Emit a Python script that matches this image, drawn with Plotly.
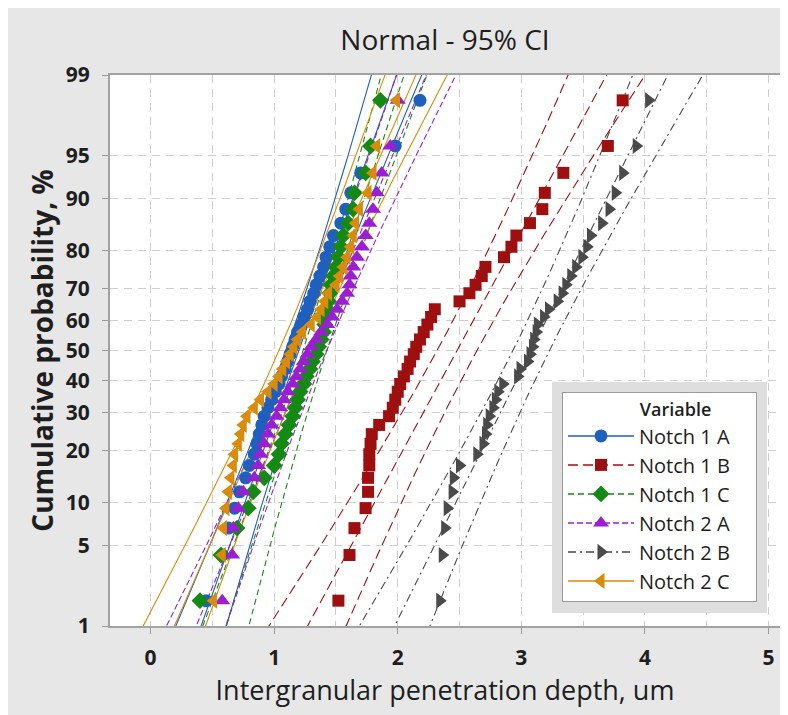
import math
from statistics import NormalDist
import plotly.graph_objects as go

# ---------------- data ----------------
series_names = ["Notch 1 A", "Notch 1 B", "Notch 1 C", "Notch 2 A", "Notch 2 B", "Notch 2 C"]

notch_1a = [0.45, 0.58, 0.63, 0.68, 0.72, 0.77, 0.80, 0.84, 0.86, 0.88,
            0.90, 0.92, 0.95, 0.98, 1.01, 1.04, 1.06, 1.09, 1.11, 1.13,
            1.15, 1.17, 1.19, 1.22, 1.24, 1.27, 1.29, 1.32, 1.34, 1.37,
            1.40, 1.42, 1.45, 1.48, 1.54, 1.58, 1.62, 1.70, 1.98, 2.18]
notch_1b = [1.52, 1.61, 1.65, 1.74, 1.76, 1.76, 1.77, 1.77, 1.78, 1.79,
            1.85, 1.93, 1.96, 1.98, 2.00, 2.02, 2.05, 2.08, 2.10, 2.13,
            2.15, 2.18, 2.21, 2.24, 2.27, 2.30, 2.50, 2.58, 2.63, 2.68,
            2.71, 2.86, 2.92, 2.96, 3.07, 3.17, 3.19, 3.34, 3.70, 3.82]
notch_1c = [0.40, 0.57, 0.70, 0.79, 0.83, 0.92, 1.00, 1.04, 1.06, 1.09,
            1.12, 1.15, 1.17, 1.19, 1.21, 1.24, 1.26, 1.29, 1.31, 1.34,
            1.36, 1.38, 1.40, 1.41, 1.42, 1.43, 1.44, 1.45, 1.46, 1.48,
            1.50, 1.52, 1.54, 1.56, 1.60, 1.64, 1.65, 1.74, 1.78, 1.86]
notch_2a = [0.58, 0.66, 0.67, 0.71, 0.75, 0.84, 0.87, 0.89, 0.92, 0.95,
            0.98, 1.02, 1.05, 1.08, 1.11, 1.15, 1.18, 1.21, 1.24, 1.27,
            1.30, 1.34, 1.38, 1.43, 1.47, 1.51, 1.55, 1.59, 1.61, 1.62,
            1.64, 1.67, 1.71, 1.74, 1.77, 1.80, 1.83, 1.87, 1.94, 2.00]
notch_2b = [2.34, 2.36, 2.38, 2.40, 2.44, 2.45, 2.50, 2.64, 2.69, 2.71,
            2.72, 2.74, 2.77, 2.79, 2.81, 2.85, 2.97, 2.99, 3.05, 3.07,
            3.09, 3.10, 3.12, 3.13, 3.18, 3.22, 3.29, 3.33, 3.36, 3.40,
            3.44, 3.49, 3.53, 3.56, 3.65, 3.71, 3.76, 3.82, 3.93, 4.03]
notch_2c = [0.51, 0.58, 0.59, 0.61, 0.63, 0.65, 0.67, 0.68, 0.71, 0.73,
            0.75, 0.78, 0.84, 0.89, 0.95, 1.00, 1.04, 1.07, 1.10, 1.13,
            1.16, 1.19, 1.23, 1.30, 1.35, 1.38, 1.41, 1.44, 1.50, 1.53,
            1.56, 1.59, 1.62, 1.64, 1.66, 1.69, 1.76, 1.80, 1.83, 1.99]

series_values = [notch_1a, notch_1b, notch_1c, notch_2a, notch_2b, notch_2c]

# fitted normal parameters (location / scale)
fit_mean = [1.20, 2.48, 1.33, 1.30, 3.08, 1.17]
fit_sd = [0.34, 0.52, 0.31, 0.40, 0.475, 0.42]

prob_ticks = [1, 5, 10, 20, 30, 40, 50, 60, 70, 80, 90, 95, 99]
x_ticks = [0, 1, 2, 3, 4, 5]

title_text = "Normal - 95% CI"
x_title = "Intergranular penetration depth, um"
y_title = "Cumulative probability, %"
legend_title = "Variable"

# ---------------- styles ----------------
colors = ["#1f5fbd", "#9e1010", "#148a14", "#9a1fd2", "#4a4a4a", "#d98b0b"]
symbols = ["circle", "square", "diamond", "triangle-up", "triangle-right", "triangle-left"]
msizes = [13, 12, 13, 14, 14, 14]
dashes = ["solid", "10px,5px", "6px,4px", "6px,3px", "8px,4px,2px,4px", "solid"]
FONT = "Open Sans, Noto Sans, DejaVu Sans, sans-serif"
TXT = "#1e1e1e"

# page offset of the figure inside the browser (body margin)
OFF = 8
W, H = 788, 715
# plot-area geometry in screen pixels (as in the reference), converted to figure pixels
PL, PR, PT, PB = 110 - OFF, 780 - OFF, 75 - OFF, 626 - OFF

nd = NormalDist()


def probit(p):
    return nd.inv_cdf(p)


def sx(px):
    """screen x pixel -> paper fraction"""
    return (px - OFF - PL) / (PR - PL)


def sy(py):
    """screen y pixel -> paper fraction"""
    return 1 - (py - OFF - PT) / (PB - PT)


zcrit = nd.inv_cdf(0.975)
fig = go.Figure()

# fitted lines + 95% confidence bands
zgrid = [-2.8 + 0.05 * k for k in range(113)]
for vals, mu, sd, c, d in zip(series_values, fit_mean, fit_sd, colors, dashes):
    n = len(vals)
    center = [mu + z * sd for z in zgrid]
    se = [sd * math.sqrt(1.0 / n + z * z / (2.0 * n)) for z in zgrid]
    lower = [m - zcrit * s for m, s in zip(center, se)]
    upper = [m + zcrit * s for m, s in zip(center, se)]
    for xs in (lower, center, upper):
        fig.add_trace(go.Scatter(x=xs, y=zgrid, mode="lines",
                                 line=dict(color=c, width=1.1, dash=d),
                                 showlegend=False, hoverinfo="skip"))

# data points at median-rank plotting positions
for name, vals, c, s, ms in zip(series_names, series_values, colors, symbols, msizes):
    n = len(vals)
    sv = sorted(vals)
    zs = [probit((k + 1 - 0.3) / (n + 0.4)) for k in range(n)]
    fig.add_trace(go.Scatter(x=sv, y=zs, mode="markers", name=name,
                             marker=dict(color=c, symbol=s, size=ms, line=dict(width=0)),
                             showlegend=False))

# legend entries (line + marker)
for name, c, s, d, ms in zip(series_names, colors, symbols, dashes, msizes):
    fig.add_trace(go.Scatter(x=[None], y=[None], mode="lines+markers",
                             name=name + "\u00a0\u00a0\u00a0\u00a0",
                             legendgroup=name,
                             line=dict(color=c, width=1.5, dash=d),
                             marker=dict(color=c, symbol=s, size=ms, line=dict(width=0))))

ytickvals = [probit(p / 100.0) for p in prob_ticks]

fig.update_layout(
    width=W, height=H,
    margin=dict(l=PL, r=W - PR, t=PT, b=H - PB),
    paper_bgcolor="#e7e7e7",
    plot_bgcolor="white",
    font=dict(family=FONT, color=TXT),
    title=dict(text=title_text, x=0.5, xref="paper", y=1 - (40 - OFF) / H, yref="container",
               yanchor="middle", xanchor="center",
               font=dict(size=28, color=TXT, family=FONT)),
    showlegend=True,
    legend=dict(
        title=dict(text="\u00a0" * 16 + legend_title, font=dict(size=18, color=TXT, weight=600)),
        x=sx(562), y=sy(392), xanchor="left", yanchor="top",
        bgcolor="white", bordercolor="#9a9a9a", borderwidth=1,
        font=dict(size=20, color=TXT, family=FONT),
        traceorder="grouped", tracegroupgap=0, itemwidth=66,
    ),
    shapes=[dict(type="rect", xref="paper", yref="paper", layer="above",
                 x0=sx(552), x1=sx(767), y0=sy(613), y1=sy(382),
                 fillcolor="#dedede", line=dict(width=0))],
)

fig.update_xaxes(
    range=[-0.328, 5.093], tickvals=x_ticks, ticktext=[str(v) for v in x_ticks],
    showgrid=True, gridcolor="#cfcfcf", griddash="8px,6px", gridwidth=1,
    minor=dict(dtick=0.5, tick0=0, showgrid=True, gridcolor="#cfcfcf", griddash="8px,6px", ticks=""),
    zeroline=False, showline=True, mirror=True, linecolor="#a3a3a3", linewidth=2,
    ticks="outside", ticklen=6, tickcolor="#9a9a9a", ticklabelstandoff=6,
    tickfont=dict(size=21, color=TXT, weight=700),
    title=dict(text=x_title, font=dict(size=27, color=TXT), standoff=4),
    automargin=False,
)
fig.update_yaxes(
    range=[probit(0.01), probit(0.99)], tickvals=ytickvals, ticktext=[str(p) for p in prob_ticks],
    showgrid=True, gridcolor="#cfcfcf", griddash="8px,6px", gridwidth=1,
    zeroline=False, showline=True, mirror=True, linecolor="#a3a3a3", linewidth=2,
    ticks="outside", ticklen=6, tickcolor="#9a9a9a", ticklabelstandoff=8,
    tickfont=dict(size=21, color=TXT, weight=700),
    title=dict(text=y_title, font=dict(size=28, color=TXT, weight=700), standoff=4),
    automargin=False,
)

fig.write_html("out.html")
